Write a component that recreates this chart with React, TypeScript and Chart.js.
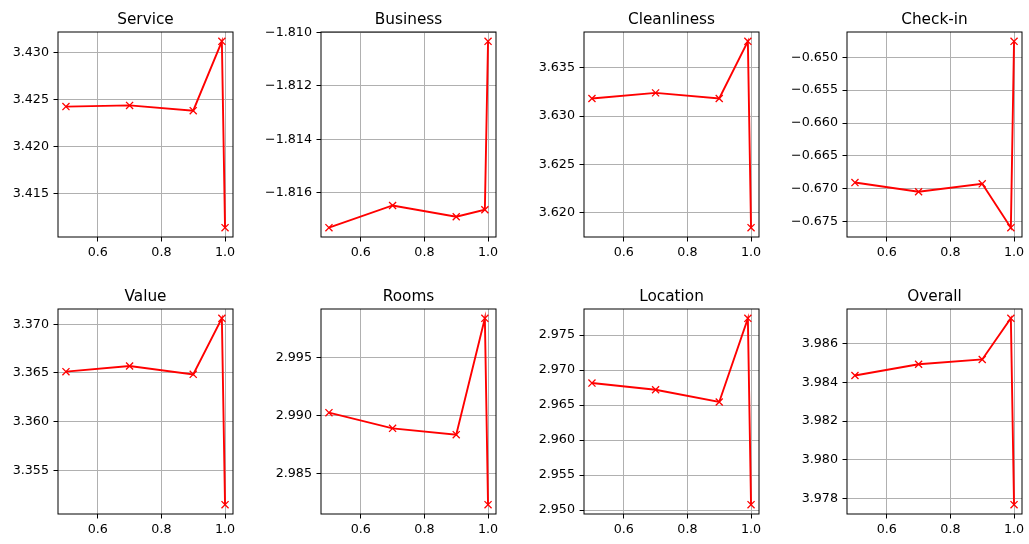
import React, { useEffect, useRef } from "react";
import { Chart, registerables } from "chart.js";

Chart.register(...registerables);

const xValues = [0.5, 0.7, 0.9, 0.99, 1.0];
const xTicks = [0.6, 0.8, 1.0];

const service = [3.42423, 3.42436, 3.4238, 3.43117, 3.41136];
const business = [-1.8173, -1.81647, -1.81689, -1.81663, -1.81034];
const cleanliness = [3.63183, 3.63241, 3.63183, 3.63776, 3.61842];
const checkIn = [-0.66905, -0.67045, -0.66924, -0.67591, -0.64758];
const valueSeries = [3.36514, 3.36572, 3.36486, 3.37061, 3.35149];
const rooms = [2.99026, 2.9889, 2.98835, 2.99844, 2.98228];
const location = [2.96814, 2.96718, 2.96543, 2.97739, 2.95076];
const overall = [3.98436, 3.98494, 3.98519, 3.98732, 3.97767];

const titles = ["Service", "Business", "Cleanliness", "Check-in", "Value", "Rooms", "Location", "Overall"];
const seriesList = [service, business, cleanliness, checkIn, valueSeries, rooms, location, overall];
const yTickSteps = [0.005, 0.002, 0.005, 0.005, 0.005, 0.005, 0.005, 0.002];

const PLOT_LEFTS = [58, 321, 584, 847];
const PLOT_TOPS = [32, 309];
const PLOT_W = 175;
const PLOT_H = 205;
const PAD_L = 62;
const PAD_T = 30;
const PAD_R = 16;
const PAD_B = 26;

const FONT = "'DejaVu Sans', sans-serif";
const TICK_SIZE = 12.7;
const TITLE_SIZE = 15.3;

const fmt = (v: number, d: number) => v.toFixed(d).replace("-", "\u2212");

function Subplot({ idx }: { idx: number }) {
  const ref = useRef<HTMLCanvasElement>(null);
  const data = seriesList[idx];
  const title = titles[idx];
  const step = yTickSteps[idx];
  const col = idx % 4;
  const row = Math.floor(idx / 4);
  const left = PLOT_LEFTS[col] - PAD_L;
  const top = PLOT_TOPS[row] - PAD_T;
  const w = PAD_L + PLOT_W + PAD_R;
  const h = PAD_T + PLOT_H + PAD_B;

  useEffect(() => {
    if (!ref.current) return;
    const dmin = Math.min(...data);
    const dmax = Math.max(...data);
    const m = (dmax - dmin) * 0.05;
    const ymin = dmin - m;
    const ymax = dmax + m;
    const xm = (Math.max(...xValues) - Math.min(...xValues)) * 0.05;

    const framePlugin = {
      id: "frame" + idx,
      afterDraw(chart: any) {
        const { ctx, chartArea: a } = chart;
        ctx.save();
        ctx.strokeStyle = "#000";
        ctx.lineWidth = 1;
        ctx.strokeRect(a.left, a.top, a.right - a.left, a.bottom - a.top);
        ctx.fillStyle = "#000";
        ctx.font = `${TITLE_SIZE}px ${FONT}`;
        ctx.textAlign = "center";
        ctx.textBaseline = "alphabetic";
        ctx.fillText(title, (a.left + a.right) / 2, a.top - 8);
        ctx.restore();
      },
    };

    const chart = new Chart(ref.current, {
      type: "line",
      data: {
        datasets: [
          {
            data: xValues.map((x, i) => ({ x, y: data[i] })),
            borderColor: "#ff0000",
            backgroundColor: "#ff0000",
            borderWidth: 1.9,
            pointStyle: "crossRot",
            pointRadius: 5,
            pointHoverRadius: 5,
            pointBorderWidth: 1.3,
            pointBorderColor: "#ff0000",
            tension: 0,
            fill: false,
          },
        ],
      },
      plugins: [framePlugin],
      options: {
        animation: false,
        responsive: false,
        devicePixelRatio: 1,
        layout: { padding: { left: 0, top: PAD_T, right: PAD_R, bottom: 0 } },
        plugins: { legend: { display: false }, tooltip: { enabled: false }, title: { display: false } },
        scales: {
          x: {
            type: "linear",
            min: Math.min(...xValues) - xm,
            max: Math.max(...xValues) + xm,
            afterBuildTicks: (s: any) => {
              s.ticks = xTicks.map((v) => ({ value: v }));
            },
            afterFit: (s: any) => {
              s.height = PAD_B;
            },
            ticks: {
              autoSkip: false,
              maxRotation: 0,
              padding: 4,
              color: "#000",
              font: { family: FONT, size: TICK_SIZE },
              callback: (v: any) => fmt(Number(v), 1),
            },
            grid: { color: "#b0b0b0", lineWidth: 1, tickColor: "#000", tickLength: 4.5, tickWidth: 1 },
            border: { display: false },
          },
          y: {
            type: "linear",
            min: ymin,
            max: ymax,
            afterBuildTicks: (s: any) => {
              const ticks = [];
              let k = Math.ceil(ymin / step - 1e-9);
              while (k * step <= ymax + 1e-12) {
                ticks.push({ value: k * step });
                k++;
              }
              s.ticks = ticks;
            },
            afterFit: (s: any) => {
              s.width = PAD_L;
            },
            ticks: {
              autoSkip: false,
              padding: 4.5,
              color: "#000",
              font: { family: FONT, size: TICK_SIZE },
              callback: (v: any) => fmt(Number(v), 3),
            },
            grid: { color: "#b0b0b0", lineWidth: 1, tickColor: "#000", tickLength: 4.5, tickWidth: 1 },
            border: { display: false },
          },
        },
      },
    } as any);
    return () => chart.destroy();
  }, [idx]);

  return (
    <div style={{ position: "absolute", left, top, width: w, height: h }}>
      <canvas ref={ref} width={w} height={h} style={{ width: w, height: h, display: "block" }} />
    </div>
  );
}

export default function App() {
  return (
    <div style={{ position: "absolute", left: 0, top: 0, width: 1029, height: 544, background: "#fff" }}>
      {titles.map((_, i) => (
        <Subplot key={i} idx={i} />
      ))}
    </div>
  );
}
